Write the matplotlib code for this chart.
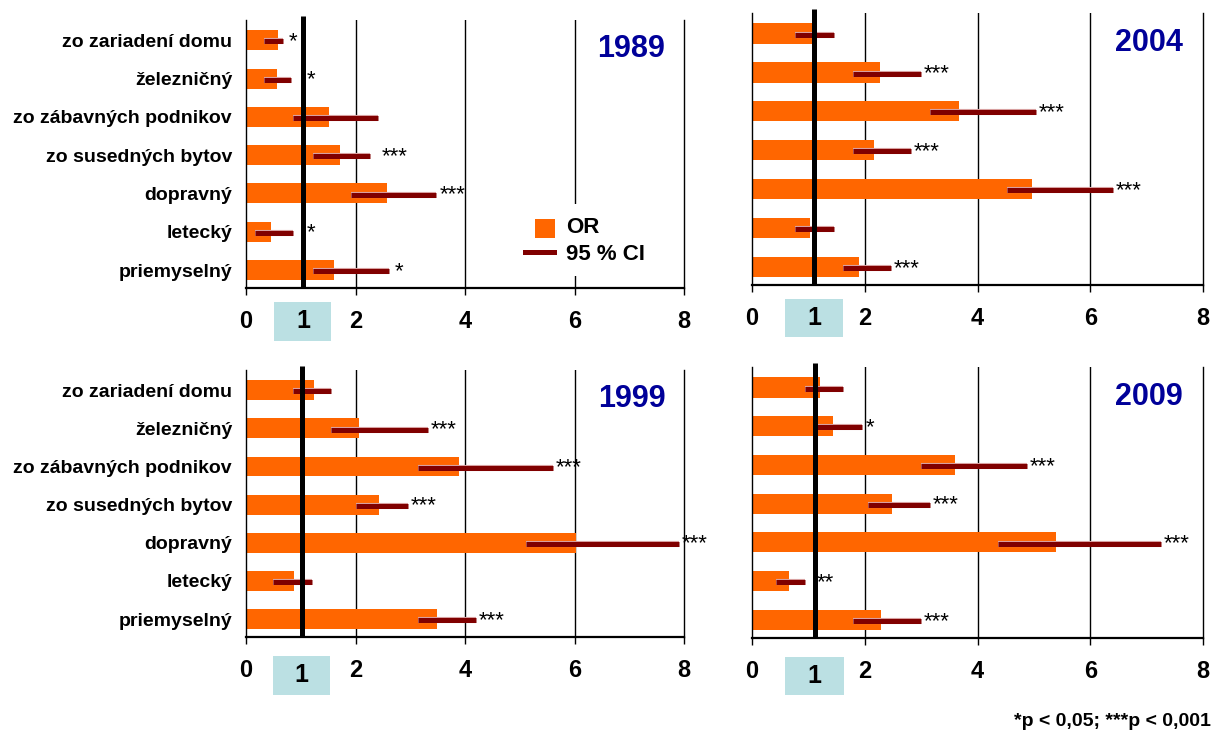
import matplotlib
matplotlib.use('Agg')
import matplotlib.pyplot as plt
from matplotlib.patches import Rectangle
from matplotlib.lines import Line2D
import matplotlib.patheffects as pe

plt.rcParams['font.family'] = ['Liberation Sans', 'DejaVu Sans']

# ---------------- data ----------------
categories = ['zo zariadení domu', 'železničný', 'zo zábavných podnikov',
              'zo susedných bytov', 'dopravný', 'letecký', 'priemyselný']
xticks = [0, 2, 4, 6, 8]

or_1989 = [0.59, 0.56, 1.52, 1.71, 2.57, 0.46, 1.61]
lo_1989 = [0.33, 0.33, 0.86, 1.22, 1.92, 0.16, 1.22]
hi_1989 = [0.68, 0.83, 2.42, 2.26, 3.47, 0.86, 2.62]
sig_1989 = ['*', '*', '', '***', '***', '*', '*']

or_2004 = [1.07, 2.27, 3.67, 2.17, 4.96, 1.02, 1.90]
lo_2004 = [0.77, 1.79, 3.16, 1.79, 4.53, 0.77, 1.62]
hi_2004 = [1.45, 2.99, 5.04, 2.82, 6.41, 1.45, 2.47]
sig_2004 = ['', '***', '***', '***', '***', '', '***']

or_1999 = [1.24, 2.06, 3.89, 2.43, 6.02, 0.87, 3.48]
lo_1999 = [0.85, 1.56, 3.14, 2.00, 5.12, 0.50, 3.14]
hi_1999 = [1.55, 3.32, 5.60, 2.96, 7.90, 1.21, 4.20]
sig_1999 = ['', '***', '***', '***', '***', '', '***']

or_2009 = [1.21, 1.43, 3.60, 2.48, 5.40, 0.66, 2.28]
lo_2009 = [0.94, 1.12, 3.00, 2.06, 4.37, 0.43, 1.80]
hi_2009 = [1.62, 1.96, 4.87, 3.16, 7.26, 0.94, 2.99]
sig_2009 = ['', '*', '***', '***', '***', '**', '***']

legend_labels = ['OR', '95 % CI']
footnote = '*p < 0,05; ***p < 0,001'

# ---------------- layout / style ----------------
W, H = 1214, 733
ORANGE = '#FF6600'
CI_COL = '#800000'
YEAR_COL = '#000099'
BOX_COL = '#BBE0E3'

panels = [
    dict(year='1989', OR=or_1989, lo=lo_1989, hi=hi_1989, sig=sig_1989,
         px=(246, 20, 684, 288), ref=1.04, labels=True, box=(14, 53),
         gaps=[0.10, 0.28, 0.07, 0.22, 0.07, 0.25, 0.09]),
    dict(year='2004', OR=or_2004, lo=lo_2004, hi=hi_2004, sig=sig_2004,
         px=(752, 13, 1203, 285), ref=1.10, labels=False, box=(14, 52),
         gaps=[0.05] * 7),
    dict(year='1999', OR=or_1999, lo=lo_1999, hi=hi_1999, sig=sig_1999,
         px=(246, 370, 684, 637), ref=1.02, labels=True, box=(19, 58),
         gaps=[0.05] * 7),
    dict(year='2009', OR=or_2009, lo=lo_2009, hi=hi_2009, sig=sig_2009,
         px=(752, 367, 1203, 638), ref=1.11, labels=False, box=(19, 57),
         gaps=[0.05, 0.05, 0.05, 0.05, 0.05, 0.2, 0.05]),
]

fig = plt.figure(figsize=(W / 100, H / 100), dpi=100)
fig.patch.set_facecolor('white')

for p in panels:
    l, t, r, b = p['px']
    hpx = b - t
    ax = fig.add_axes([l / W, 1 - b / H, (r - l) / W, hpx / H])
    y = list(range(len(categories)))
    ax.barh(y, p['OR'], height=0.52, color=ORANGE, zorder=2)
    ax.hlines([v + 0.03 for v in y], p['lo'], p['hi'], color=CI_COL, lw=3.6, zorder=4,
              path_effects=[pe.Stroke(linewidth=4.4, foreground='#d8a0a0'), pe.Normal()])
    for v in [2, 4, 6]:
        ax.axvline(v, color='black', lw=1.0, zorder=1)
    ax.plot([p['ref'], p['ref']], [0.0, 1.015], transform=ax.get_xaxis_transform(),
            color='black', lw=3.6, zorder=6, clip_on=False, solid_capstyle='butt')
    for yi, s, hi, g in zip(y, p['sig'], p['hi'], p['gaps']):
        if s:
            ax.text(hi + g, yi + 0.18, s, fontsize=16, ha='left', va='baseline',
                    color='black', zorder=7, clip_on=False)
    ax.set_xlim(0, 8)
    ax.set_ylim(len(categories) - 0.53, -0.53)
    ax.spines['top'].set_visible(False)
    for s in ['left', 'right']:
        ax.spines[s].set_linewidth(1.0)
    ax.spines['bottom'].set_linewidth(1.6)
    ax.set_xticks(xticks)
    ax.set_xticklabels([str(v) for v in xticks], fontsize=17, fontweight='bold')
    ax.tick_params(axis='x', length=5, width=1, pad=11, colors='black')
    ax.set_yticks(y)
    if p['labels']:
        ax.set_yticklabels(categories, fontsize=14, fontweight='bold')
    else:
        ax.set_yticklabels([])
    ax.tick_params(axis='y', length=0, pad=10)
    ax.text(0.88, 0.89, p['year'], transform=ax.transAxes, fontsize=22,
            fontweight='bold', color=YEAR_COL, ha='center', va='center')
    # highlighted "1" on the x axis
    b0, b1 = p['box']
    tr = ax.get_xaxis_transform()
    ax.add_patch(Rectangle((p['ref'] - 0.52, -b1 / hpx), 1.04, (b1 - b0) / hpx,
                           transform=tr, facecolor=BOX_COL, edgecolor='none',
                           clip_on=False, zorder=0))
    ax.text(p['ref'], -(b0 + b1) / 2 / hpx, '1', transform=tr, fontsize=18,
            fontweight='bold', ha='center', va='center', clip_on=False)

# legend (inside 1989 panel)
fig.add_artist(Rectangle((518 / W, 1 - 276 / H), 142 / W, 72 / H,
                         transform=fig.transFigure, facecolor='white',
                         edgecolor='none', zorder=3))
fig.add_artist(Rectangle((535 / W, 1 - 238 / H), 20 / W, 19 / H,
                         transform=fig.transFigure, facecolor=ORANGE,
                         edgecolor='none', zorder=4))
fig.add_artist(Line2D([525 / W, 554 / W], [1 - 252 / H, 1 - 252 / H],
                      transform=fig.transFigure, color=CI_COL, lw=3.6, zorder=4))
fig.text(566 / W, 1 - 228 / H, legend_labels[0], fontsize=16, fontweight='bold',
         va='center', ha='left', zorder=5)
fig.text(566 / W, 1 - 255 / H, legend_labels[1], fontsize=16, fontweight='bold',
         va='center', ha='left', zorder=5)

fig.text(1211 / W, 1 - 722 / H, footnote, fontsize=14, fontweight='bold',
         ha='right', va='center')

fig.savefig('out.png', dpi=100, facecolor='white')
